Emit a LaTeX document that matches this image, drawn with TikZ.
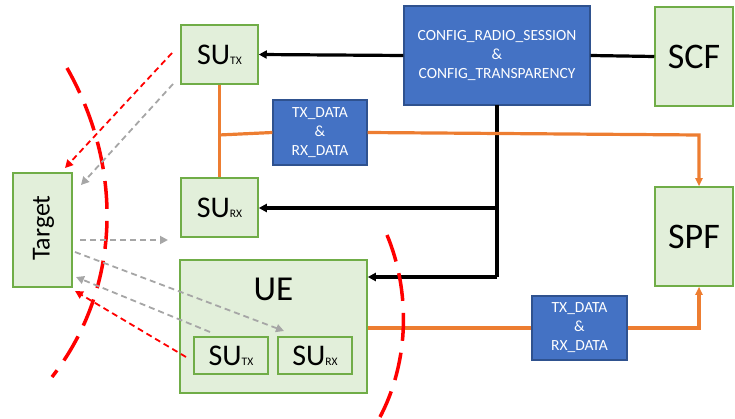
\documentclass[tikz,border=0pt]{standalone}
\usepackage{fontspec}
\setmainfont{Carlito}
\usetikzlibrary{arrows.meta}
\definecolor{gfill}{HTML}{E2EFDA}
\definecolor{gdraw}{HTML}{70AD47}
\definecolor{bfill}{HTML}{4472C4}
\definecolor{bdraw}{HTML}{2F528F}
\definecolor{orng}{HTML}{ED7D31}
\definecolor{gry}{HTML}{A6A6A6}
\tikzset{
  gbox/.style={draw=gdraw,fill=gfill,line width=1.5pt,inner sep=0pt,align=center},
  bbox/.style={draw=bdraw,fill=bfill,line width=1.2pt,inner sep=0pt,align=center,text=white,font=\fontsize{15.5}{19}\selectfont},
  blk/.style={black,line width=3.2pt},
  blkarr/.style={blk,-{Triangle[length=8pt,width=8pt]}},
  org/.style={orng,line width=3.2pt},
  orgarr/.style={org,-{Triangle[length=8pt,width=7pt]}},
  reddash/.style={red,line width=1.8pt,dash pattern=on 6pt off 4pt,-{Triangle[length=8pt,width=8pt]}},
  graydash/.style={gry,line width=1.8pt,dash pattern=on 6pt off 4pt,-{Triangle[length=8pt,width=8pt]}},
  arcline/.style={red,line width=3.5pt,dash pattern=on 28pt off 12pt},
}
\newcommand{\subu}[2]{{\fontsize{#1}{#1}\selectfont SU}{\fontsize{11.5}{11.5}\selectfont #2}}
\begin{document}
\begin{tikzpicture}[x=1pt,y=-1pt]
\useasboundingbox (0,0) rectangle (735,419);
% nodes
\node[gbox,minimum width=77pt,minimum height=59pt] (sutx) at (219.5,54.5) {\subu{30}{TX}};
\node[gbox,minimum width=77pt,minimum height=59pt] (surx) at (219.5,207.5) {\subu{30}{RX}};
\node[gbox,minimum width=59pt,minimum height=114pt] (target) at (42.5,230) {};
\node[rotate=90,font=\fontsize{26}{26}\selectfont] (targettext) at (43.5,228) {Target};
\node[gbox,minimum width=187pt,minimum height=133pt] (ue) at (273.5,326.5) {};
\node[font=\fontsize{35}{35}\selectfont] (uetext) at (273.5,289) {UE};
\node[gbox,minimum width=74pt,minimum height=37pt] (uetx) at (231,355.5) {\subu{30}{TX}};
\node[gbox,minimum width=74pt,minimum height=37pt] (uerx) at (315,355.5) {\subu{30}{RX}};
\node[bbox,minimum width=186pt,minimum height=99pt] (config) at (497,55.5) {CONFIG\_RADIO\_SESSION\\\&\\CONFIG\_TRANSPARENCY};
\node[gbox,minimum width=78pt,minimum height=99pt,font=\fontsize{36}{36}\selectfont] (scf) at (694,56.5) {SCF};
\node[gbox,minimum width=78pt,minimum height=99pt,font=\fontsize{36}{36}\selectfont] (spf) at (694,236.5) {SPF};
\node[bbox,minimum width=94pt,minimum height=65pt] (data1) at (320,132.5) {TX\_DATA\\\&\\RX\_DATA};
\node[bbox,minimum width=95pt,minimum height=64pt] (data2) at (579.5,328) {TX\_DATA\\\&\\RX\_DATA};
% coordinates
\coordinate (cdown) at (497,105);
\coordinate (cbranch) at (497,208);
\coordinate (ccorner) at (497,277);
\coordinate (ojoin) at (219,135);
\coordinate (ocorner1) at (699,135);
\coordinate (ocorner2) at (699,328);
% black
\draw[blkarr] (config.west) -- (sutx.east);
\draw[blk] (config.east) -- (scf.west);
\draw[blk] (cdown) -- (ccorner);
\draw[blkarr] (ccorner) -- (ccorner -| ue.east);
\draw[blkarr] (cbranch) -- (cbranch -| surx.east);
% orange
\draw[org] (sutx.south) -- (surx.north);
\draw[org] (ojoin) -- (data1.west);
\draw[orgarr] (data1.east) -- (ocorner1) -- (ocorner1 |- spf.north);
\draw[org] (data2.west -| ue.east) -- (data2.west);
\draw[orgarr] (data2.east) -- (ocorner2) -- (ocorner2 |- spf.south);
% red arcs
\coordinate (a1s) at (67,68);
\coordinate (a1e) at (52,377);
\coordinate (a2s) at (387,235);
\coordinate (a2e) at (380,417);
\draw[arcline] (a1s) .. controls (125,170) and (120,290) .. (a1e);
\draw[arcline] (a2s) .. controls (410,290) and (410,360) .. (a2e);
% dashed arrows
\coordinate (r1s) at (172,53);
\coordinate (r1e) at (65,168);
\coordinate (r2s) at (186,357);
\coordinate (r2e) at (75,291);
\coordinate (g1s) at (173,84);
\coordinate (g1e) at (81,185);
\coordinate (g2s) at (80,240);
\coordinate (g2e) at (168,240);
\coordinate (g3s) at (75,252);
\coordinate (g3e) at (284,331);
\coordinate (g4s) at (210,332);
\coordinate (g4e) at (76,277);
\draw[reddash] (r1s) -- (r1e);
\draw[reddash] (r2s) -- (r2e);
\draw[graydash] (g1s) -- (g1e);
\draw[graydash] (g2s) -- (g2e);
\draw[graydash] (g3s) -- (g3e);
\draw[graydash] (g4s) -- (g4e);
\end{tikzpicture}
\end{document}
